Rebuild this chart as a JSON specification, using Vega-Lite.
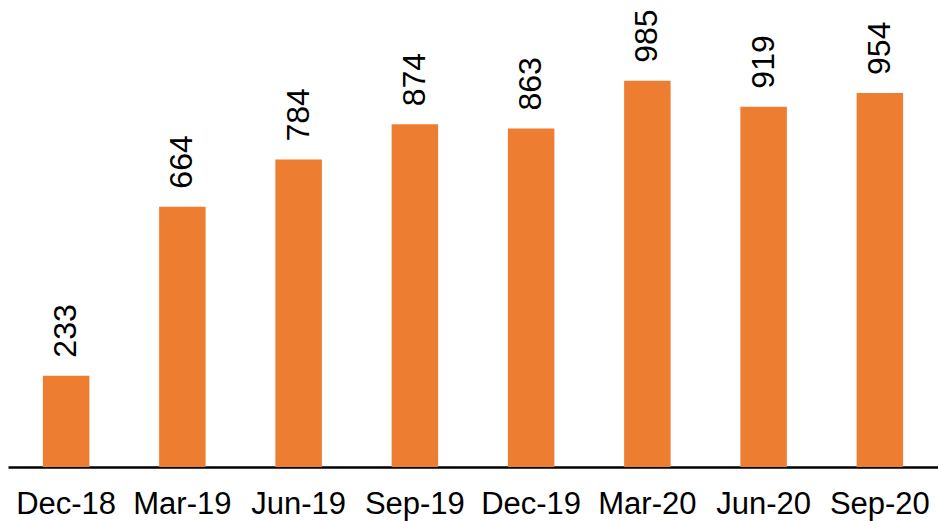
{
  "$schema": "https://vega.github.io/schema/vega-lite/v6.json",
  "width": 930,
  "height": 467,
  "autosize": {"type": "none"},
  "padding": {"left": 8, "top": 0, "right": 0, "bottom": 54},
  "background": "white",
  "config": {"view": {"stroke": null}, "font": "Liberation Sans"},
  "data": {"values": [
    {"period": "Dec-18", "value": 233},
    {"period": "Mar-19", "value": 664},
    {"period": "Jun-19", "value": 784},
    {"period": "Sep-19", "value": 874},
    {"period": "Dec-19", "value": 863},
    {"period": "Mar-20", "value": 985},
    {"period": "Jun-20", "value": 919},
    {"period": "Sep-20", "value": 954}
  ]},
  "encoding": {
    "x": {"field": "period", "type": "nominal", "sort": null,
      "scale": {"paddingInner": 0.6, "paddingOuter": 0.3},
      "axis": {"title": null, "labelAngle": 0, "ticks": false, "labelPadding": 22, "labelFontSize": 31, "labelColor": "#000000", "domainColor": "#000000", "domainWidth": 2.5}},
    "y": {"field": "value", "type": "quantitative", "scale": {"domain": [0, 1191]}, "axis": null}
  },
  "layer": [
    {"mark": {"type": "bar", "color": "#ED7D31"}},
    {"mark": {"type": "text", "angle": -90, "align": "left", "baseline": "middle", "dx": 18, "fontSize": 32, "color": "#000000"},
     "encoding": {"text": {"field": "value", "type": "quantitative"}}}
  ]
}
